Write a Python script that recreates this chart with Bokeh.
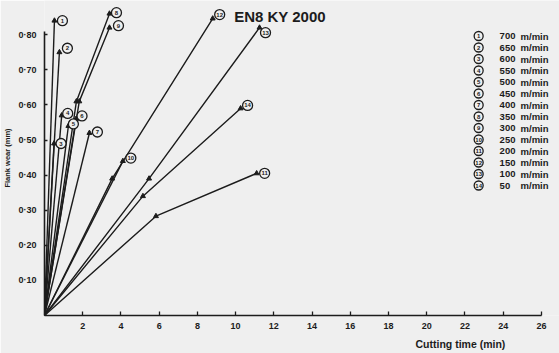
from bokeh.plotting import figure
from bokeh.models import Range1d, FixedTicker, Label, Title
from bokeh.core.properties import value
from bokeh.embed import file_html
from bokeh.resources import INLINE

# ---------------- data ----------------
speeds = [700, 650, 600, 550, 500, 450, 400, 350, 300, 250, 200, 150, 100, 50]
curve_ids = ["1", "2", "3", "4", "5", "6", "7", "8", "9", "10", "11", "12", "13", "14"]

c1_x = [0, 0.52];  c1_y = [0, 0.84]
c2_x = [0, 0.78];  c2_y = [0, 0.75]
c3_x = [0, 0.50];  c3_y = [0, 0.49]
c4_x = [0, 0.90];  c4_y = [0, 0.57]
c5_x = [0, 1.25];  c5_y = [0, 0.54]
c6_x = [0, 1.65];  c6_y = [0, 0.56]
c7_x = [0, 2.35];  c7_y = [0, 0.52]
c8_x = [0, 1.67, 3.40];  c8_y = [0, 0.61, 0.86]
c9_x = [0, 1.82, 3.40];  c9_y = [0, 0.61, 0.82]
c10_x = [0, 4.10];  c10_y = [0, 0.44]
c11_x = [0, 5.83, 11.10];  c11_y = [0, 0.283, 0.405]
c12_x = [0, 3.54, 8.80];  c12_y = [0, 0.39, 0.846]
c13_x = [0, 5.47, 11.25];  c13_y = [0, 0.39, 0.82]
c14_x = [0, 5.15, 10.26];  c14_y = [0, 0.34, 0.59]

x_ticks = [2, 4, 6, 8, 10, 12, 14, 16, 18, 20, 22, 24, 26]
y_ticks = [0.1, 0.2, 0.3, 0.4, 0.5, 0.6, 0.7, 0.8]
y_tick_labels = ["0·10", "0·20", "0·30", "0·40", "0·50", "0·60", "0·70", "0·80"]

title_text = "EN8 KY 2000"
x_title = "Cutting time (min)"
y_title = "Flank wear (mm)"

curves_x = [c1_x, c2_x, c3_x, c4_x, c5_x, c6_x, c7_x, c8_x, c9_x, c10_x, c11_x, c12_x, c13_x, c14_x]
curves_y = [c1_y, c2_y, c3_y, c4_y, c5_y, c6_y, c7_y, c8_y, c9_y, c10_y, c11_y, c12_y, c13_y, c14_y]

# ---------------- layout helpers (canvas pixel -> data) ----------------
W, H = 559, 353
PX_X0, PX_PER_X = 43.0, 19.15
PX_Y0, PX_PER_Y = 315.0, 351.0
def px2x(px):
    return (px - PX_X0) / PX_PER_X
def px2y(py):
    return (PX_Y0 - py) / PX_PER_Y

INK = "#1c1c1c"
BG = "#efefef"
FONT = "Liberation Sans"

p = figure(width=W, height=H, output_backend="svg", toolbar_location=None,
           x_range=Range1d(0, px2x(W)), y_range=Range1d(0, px2y(0)),
           min_border_left=int(PX_X0), min_border_right=0, min_border_top=0,
           min_border_bottom=int(H - PX_Y0))
p.background_fill_color = BG
p.border_fill_color = BG
p.outline_line_color = None
p.xgrid.visible = False
p.ygrid.visible = False

for ax in (p.xaxis[0], p.yaxis[0]):
    ax.axis_line_color = INK
    ax.axis_line_width = 1.6
    ax.major_tick_line_color = INK
    ax.major_tick_line_width = 1.3
    ax.minor_tick_line_color = None
    ax.major_tick_out = 0
    ax.major_label_text_font = FONT
    ax.major_label_text_font_style = "bold"
    ax.major_label_text_font_size = "9px"
    ax.major_label_text_color = INK

p.xaxis.ticker = FixedTicker(ticks=x_ticks)
p.xaxis.bounds = (0, 26)
p.xaxis.major_tick_in = 4
p.xaxis.major_label_standoff = 7

p.yaxis.ticker = FixedTicker(ticks=y_ticks)
p.yaxis.major_label_overrides = {t: l for t, l in zip(y_ticks, y_tick_labels)}
p.yaxis.bounds = (0, 0.81)
p.yaxis.major_tick_in = 3
p.yaxis.major_label_standoff = 8
p.yaxis.axis_label = y_title
p.yaxis.axis_label_text_font = FONT
p.yaxis.axis_label_text_font_style = "bold"
p.yaxis.axis_label_text_font_size = "7.5px"
p.yaxis.axis_label_text_color = INK
p.yaxis.axis_label_standoff = 3

# x-axis title, right part under the axis
p.add_layout(Title(text=x_title, align="left", offset=414 - PX_X0, standoff=8,
                   text_font=FONT, text_font_style="bold", text_font_size="10.5px",
                   text_color=INK), "below")

# label offsets for circled numbers (pixels, layout only)
lab_dx = [8, 8, 7, 6, 5, 6, 8, 7, 9, 8, 8, 7, 6, 7]
lab_dy = [0, 4, 0, 2, 2, 3, 1, 1, 2, 3, 0, 4, -5, 3]

def circled(xs, ys, labels, size):
    p.scatter(xs, ys, marker="circle", size=size, fill_color=BG, line_color=INK, line_width=1.3)
    p.text(xs, ys, text=labels, text_font=value(FONT), text_font_style="bold",
           text_font_size="6px", text_color=INK, text_align="center", text_baseline="middle")

lab_x, lab_y = [], []
for i in range(14):
    xs, ys = curves_x[i], curves_y[i]
    p.line(xs, ys, line_color=INK, line_width=1.4)
    p.scatter(xs[1:], ys[1:], marker="triangle", size=5, fill_color=INK, line_color=INK)
    lab_x.append(xs[-1] + lab_dx[i] / PX_PER_X)
    lab_y.append(ys[-1] + lab_dy[i] / PX_PER_Y)
circled(lab_x, lab_y, curve_ids, 10)

# legend (right side)
leg_y = [35.5 + 11.5 * i for i in range(14)]
circled([px2x(478)] * 14, [px2y(v) for v in leg_y], curve_ids, 9)
p.text([px2x(499)] * 14, [px2y(v) for v in leg_y], text=[str(s) for s in speeds],
       text_font=value(FONT), text_font_style="bold", text_font_size="9.5px", text_color=INK,
       text_align="left", text_baseline="middle")
p.text([px2x(520)] * 14, [px2y(v) for v in leg_y], text=["m/min"] * 14,
       text_font=value(FONT), text_font_style="bold", text_font_size="9.5px", text_color=INK,
       text_align="left", text_baseline="middle")

# chart title inside the plot
p.add_layout(Label(x=px2x(233), y=px2y(16), text=title_text, text_font=FONT,
                   text_font_style="bold", text_font_size="15px", text_color=INK,
                   text_align="left", text_baseline="middle"))

open("out.html", "w").write(file_html(p, INLINE))
